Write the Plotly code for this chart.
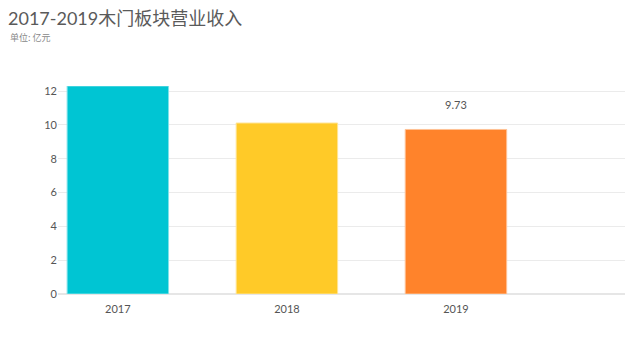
import plotly.graph_objects as go

years = ["2017", "2018", "2019"]
revenue = [12.30, 10.11, 9.73]
colors = ["#00C5D3", "#FFCA28", "#FF832B"]
edge_colors = ["#7FE2E9", "#FFE493", "#FFC195"]
label_text = ["", "", "9.73"]

fig = go.Figure()
fig.add_trace(go.Bar(
    x=years, y=revenue,
    marker=dict(color=colors, line=dict(color=edge_colors, width=1)),
    width=0.6,
    hoverinfo="skip",
))
fig.add_trace(go.Scatter(
    x=years, y=[v + 1.35 for v in revenue],
    mode="text", text=label_text,
    textfont=dict(family="Lato, Noto Sans CJK SC", size=11, color="#555555"),
    hoverinfo="skip",
))

fig.update_layout(
    width=639, height=359,
    margin=dict(l=50, r=22, t=78, b=73),
    paper_bgcolor="white", plot_bgcolor="white",
    showlegend=False,
    font=dict(family="Lato, Noto Sans CJK SC", color="#555555", size=11),
    title=dict(
        text="2017-2019木门板块营业收入",
        x=0.0, xanchor="left", y=0.987, yanchor="top",
        font=dict(family="Lato, Noto Sans CJK SC", size=18, color="#5a5a5a"),
    ),
    annotations=[dict(
        text="单位: 亿元", xref="paper", yref="paper",
        x=-0.088, y=1.232, xanchor="left", yanchor="middle", showarrow=False,
        font=dict(family="Noto Sans CJK SC", size=9, color="#888888"),
    )],
)
fig.update_xaxes(
    type="category", range=[-0.354, 3.0],
    showgrid=False, showline=False, zeroline=False,
    ticks="", tickfont=dict(size=11, color="#555555"),
    ticklabelstandoff=7,
    automargin=False,
)
fig.update_yaxes(
    range=[0, 12.3], dtick=2, tick0=0,
    showgrid=True, gridcolor="#EBEBEB", gridwidth=1,
    zeroline=True, zerolinecolor="#E6E6E6", showline=False,
    ticks="", tickfont=dict(size=11, color="#555555"),
    automargin=False,
)

fig.write_html("out.html")
